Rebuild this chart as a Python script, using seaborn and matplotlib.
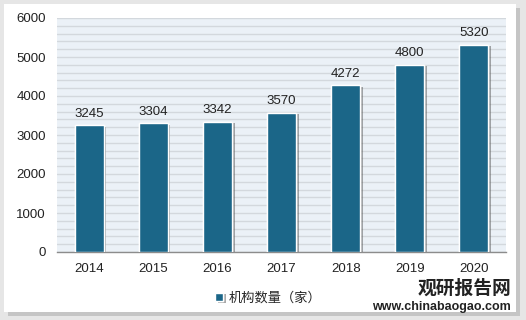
import matplotlib
matplotlib.use("Agg")
import matplotlib.pyplot as plt
import matplotlib.patheffects as pe
from matplotlib.patches import Rectangle
import seaborn as sns
import pandas as pd

years = ["2014", "2015", "2016", "2017", "2018", "2019", "2020"]
counts = [3245, 3304, 3342, 3570, 4272, 4800, 5320]
series_name = "机构数量（家）"

sns.set_theme(style="white")
plt.rcParams['font.family'] = ['Liberation Sans', 'Noto Sans CJK SC', 'DejaVu Sans']

df = pd.DataFrame({"year": years, "count": counts, "series": series_name})

fig = plt.figure(figsize=(5.26, 3.2), dpi=100)
fig.patch.set_facecolor("#e6e6e6")
# white panel with shadow
panel = Rectangle((4/526, 8/320), 512/526, 308/320, transform=fig.transFigure,
                  facecolor="white", edgecolor="none", zorder=-10,
                  path_effects=[pe.withSimplePatchShadow(offset=(3, -3), shadow_rgbFace="#b0b0b0", alpha=0.6), pe.Normal()])
fig.patches.append(panel)

ax = fig.add_axes([57/526, 1 - 252/320, 449/526, 234/320])
ax.set_zorder(1)
ax.set_facecolor("#ebf1f7")
sns.barplot(data=df, x="year", y="count", hue="series", palette=["#1b6688"], saturation=1,
            width=0.45, ax=ax, edgecolor="white", linewidth=1.0, zorder=3)
for p in ax.patches:
    p.set_path_effects([pe.withSimplePatchShadow(offset=(2, -1), shadow_rgbFace="#555555", alpha=0.5), pe.Normal()])

ax.set_ylim(0, 6000)
ax.set_xlim(-0.5, 6.5)
ax.set_yticks(range(0, 6001, 1000))
ax.set_yticks(range(0, 6001, 200), minor=True)
ax.yaxis.grid(True, which="both", color="#d3d8dd", linewidth=1.0, zorder=0)
ax.set_axisbelow(True)
for s in ["top", "right", "left"]:
    ax.spines[s].set_visible(False)
ax.spines["bottom"].set_color("#8c8c8c")
ax.spines["bottom"].set_linewidth(1.0)
ax.set_xlabel("")
ax.set_ylabel("")
ax.tick_params(axis="both", which="both", length=0, labelsize=9.5, colors="#222222")
ax.tick_params(axis="y", pad=8)
ax.tick_params(axis="x", pad=8)

for c in ax.containers:
    ax.bar_label(c, labels=[str(v) for v in counts], padding=4, fontsize=9.5, color="#222222")

leg = ax.legend(loc="upper center", bbox_to_anchor=(0.47, -0.12), frameon=True, fontsize=9.5,
                handlelength=0.6, handleheight=0.6, handletextpad=0.4, borderpad=0.4)
leg.get_frame().set_edgecolor("none")
leg.get_frame().set_facecolor("white")

fig.text(0.972, 0.098, "观研报告网", fontsize=13.5, fontweight="bold", color="#222222",
         ha="right", va="center", family=['Noto Sans CJK SC', 'DejaVu Sans'], zorder=5)
fig.text(0.972, 0.04, "www.chinabaogao.com", fontsize=9, fontweight="bold", color="#222222",
         ha="right", va="center", zorder=5)

fig.savefig("out.png", dpi=100, facecolor=fig.get_facecolor())
